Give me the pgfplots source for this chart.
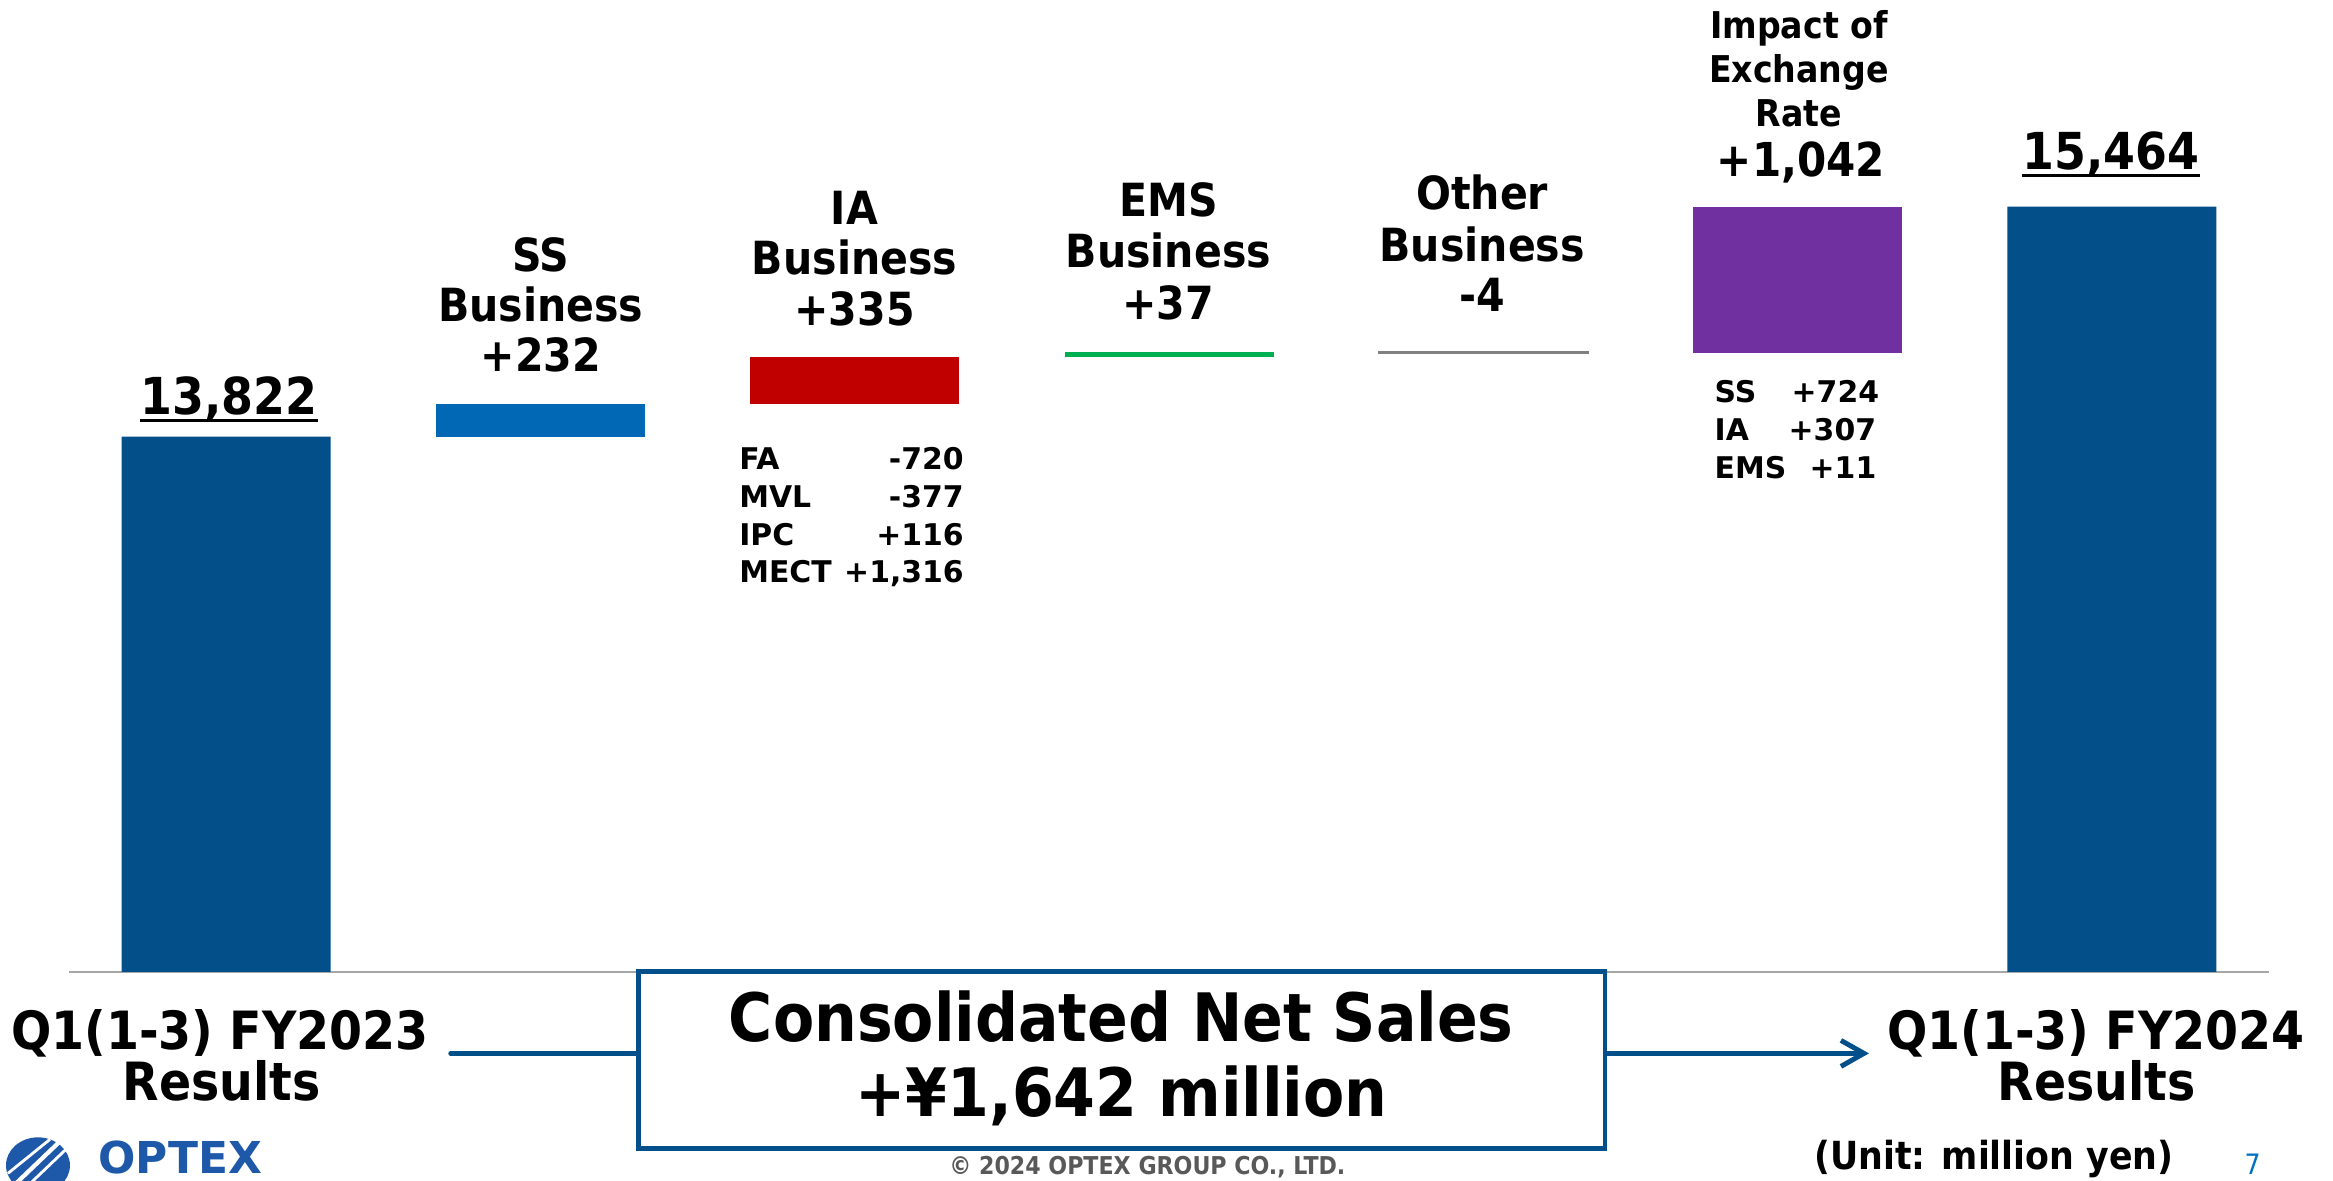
\documentclass[border=0pt]{standalone}
\usepackage{pgfplots}
\pgfplotsset{compat=1.18}
\usepackage{fontspec}
\setmainfont{DejaVu Sans}
\newfontfamily\condf{DejaVu Sans Condensed}
\usetikzlibrary{arrows.meta}
\definecolor{barblue}{RGB}{2,79,137}
\definecolor{ssblue}{RGB}{0,104,180}
\definecolor{iared}{RGB}{192,0,0}
\definecolor{emsgreen}{RGB}{0,176,80}
\definecolor{exchpurple}{RGB}{112,48,160}
\definecolor{othergray}{RGB}{128,128,128}
\definecolor{basegray}{RGB}{166,166,166}
\definecolor{copygray}{RGB}{89,89,89}
\definecolor{pageblue}{RGB}{0,112,192}
\definecolor{logoblue}{RGB}{30,88,168}
\newcommand{\cb}[1]{\fontsize{#1}{#1}\selectfont\condf\bfseries}
\newcommand{\rb}[1]{\fontsize{#1}{#1}\selectfont\bfseries}
\pgfplotsset{wfgeom/.style={at={(0.69cm,2.08cm)}, anchor=south west, scale only axis,
  width=22cm, height=8.404cm, xmin=-0.5, xmax=6.5, ymin=10000, ymax=16000,
  ybar stacked, bar width=0.665, xtick=\empty, ytick=\empty}}
\begin{document}
\begin{tikzpicture}
\useasboundingbox (0,0) rectangle (23.33,11.80);
\clip (0,0) rectangle (23.33,11.80);
\begin{axis}[wfgeom, axis x line*=bottom, hide y axis,
  x axis line style={draw=basegray, line width=0.6pt, -}]
\addplot[draw=none, fill=none] coordinates {(0,0) (1,13822) (2,14054) (3,14389) (4,0) (5,14422) (6,0)};
\addplot[draw=none, fill=barblue] coordinates {(0,13822) (1,0) (2,0) (3,0) (4,0) (5,0) (6,15464)};
\addplot[draw=none, fill=ssblue] coordinates {(0,0) (1,232) (2,0) (3,0) (4,0) (5,0) (6,0)};
\addplot[draw=none, fill=iared] coordinates {(0,0) (1,0) (2,335) (3,0) (4,0) (5,0) (6,0)};
\addplot[draw=none, fill=emsgreen] coordinates {(0,0) (1,0) (2,0) (3,37) (4,0) (5,0) (6,0)};
\addplot[draw=none, fill=exchpurple] coordinates {(0,0) (1,0) (2,0) (3,0) (4,0) (5,1042) (6,0)};
\end{axis}
\begin{axis}[wfgeom, hide axis]
\addplot[draw=none, fill=none] coordinates {(4,14422)};
\addplot[draw=othergray, fill=othergray, line width=0.5pt] coordinates {(4,4)};
\end{axis}
\begin{scope}[shift={(0,11.80)}, x=0.01cm, y=-0.01cm, every node/.style={inner sep=0pt, anchor=base}]
% totals
\node (t1) at (229,415) {\cb{14.5}13,822};
\draw[line width=0.85pt] ([yshift=-0.06cm]t1.base west) -- ([yshift=-0.06cm]t1.base east);
\node (t2) at (2112,170) {\cb{14.5}15,464};
\draw[line width=0.85pt] ([yshift=-0.06cm]t2.base west) -- ([yshift=-0.06cm]t2.base east);
% SS
\node at (541,272) {\cb{13}SS};
\node at (541,322) {\cb{13}Business};
\node at (541,372) {\cb{13}+232};
% IA
\node at (855,225) {\cb{13}IA};
\node at (855,275) {\cb{13}Business};
\node at (855,326) {\cb{13}+335};
% EMS
\node at (1169,217) {\cb{13}EMS};
\node at (1169,268) {\cb{13}Business};
\node at (1169,320) {\cb{13}+37};
% Other
\node at (1483,210) {\cb{13}Other};
\node at (1483,262) {\cb{13}Business};
\node at (1483,312) {\cb{13}-4};
% Exchange
\node at (1800,39) {\cb{10.5}Impact of};
\node at (1800,83) {\cb{10.5}Exchange};
\node at (1800,127) {\cb{10.5}Rate};
\node at (1802,177) {\cb{13.3}+1,042};
% IA breakdown
\node[anchor=base west] at (739,470) {\rb{8.5}FA};
\node[anchor=base west] at (739,508) {\rb{8.5}MVL};
\node[anchor=base west] at (739,546) {\rb{8.5}IPC};
\node[anchor=base west] at (739,583) {\rb{8.5}MECT};
\node[anchor=base east] at (965,470) {\rb{8.5}-720};
\node[anchor=base east] at (965,508) {\rb{8.5}-377};
\node[anchor=base east] at (965,546) {\rb{8.5}+116};
\node[anchor=base east] at (965,583) {\rb{8.5}+1,316};
% Exchange breakdown
\node[anchor=base west] at (1715,403) {\rb{8.5}SS};
\node[anchor=base west] at (1715,441) {\rb{8.5}IA};
\node[anchor=base west] at (1715,479) {\rb{8.5}EMS};
\node[anchor=base west] at (1792,403) {\rb{8.5}+724};
\node[anchor=base west] at (1789,441) {\rb{8.5}+307};
\node[anchor=base west] at (1810,479) {\rb{8.5}+11};
% bottom labels
\node at (220,1050) {\cb{15}Q1(1-3) FY2023};
\node at (222,1101) {\cb{15}Results};
\node at (2097,1050) {\cb{15}Q1(1-3) FY2024};
\node at (2098,1101) {\cb{15}Results};
% arrows and box
\draw[barblue, line width=1.4pt, line cap=round] (451,1054) -- (639,1054);
\draw[barblue, line width=1.4pt, -{Straight Barb[length=2.3mm, width=2.6mm]}] (1606,1054) -- (1870,1054);
\draw[barblue, line width=1.35pt, fill=white] (639,972) rectangle (1606,1149);
\node at (1122,1042) {\cb{19}Consolidated Net Sales};
\node at (1122,1117) {\cb{19}+¥1,642 million};
\node at (1995,1170) {\cb{11}(Unit: million yen)};
\node at (1148,1175) {\color{copygray}\cb{7}© 2024 OPTEX GROUP CO., LTD.};
\node at (2254,1175) {\color{pageblue}\fontsize{8}{8}\selectfont\condf 7};
% logo
\fill[logoblue] (38,1166) ellipse [x radius=32, y radius=28];
\draw[white, line width=1.2pt] (14,1186) -- (60,1142);
\draw[white, line width=0.8pt] (22,1192) -- (66,1150);
\draw[white, line width=0.8pt] (8,1174) -- (50,1140);
\node[anchor=base west] at (98,1174) {\color{logoblue}\rb{12.5}OPTEX};
\end{scope}
\end{tikzpicture}
\end{document}
